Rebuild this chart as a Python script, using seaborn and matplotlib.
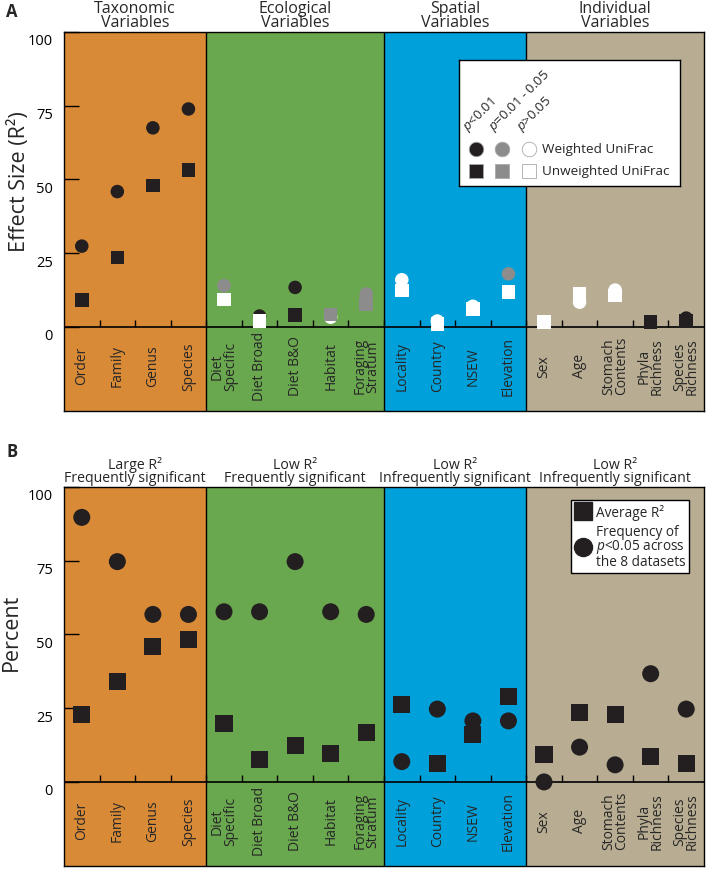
import numpy as np
import pandas as pd
import matplotlib
matplotlib.use("Agg")
import matplotlib.pyplot as plt
import matplotlib.transforms as mtransforms
from matplotlib.lines import Line2D
import seaborn as sns

sns.set_style("white")
plt.rcParams["font.family"] = ["Open Sans", "DejaVu Sans"]
plt.rcParams["mathtext.fontset"] = "custom"
plt.rcParams["mathtext.rm"] = "Open Sans"
plt.rcParams["mathtext.it"] = "Open Sans:italic"

# categories and groups
categories = ["Order", "Family", "Genus", "Species",
              "Diet Specific", "Diet Broad", "Diet B&O", "Habitat", "Foraging Stratum",
              "Locality", "Country", "NSEW", "Elevation",
              "Sex", "Age", "Stomach Contents", "Phyla Richness", "Species Richness"]
cat_labels = ["Order", "Family", "Genus", "Species",
              "Diet\nSpecific", "Diet Broad", "Diet B&O", "Habitat", "Foraging\nStratum",
              "Locality", "Country", "NSEW", "Elevation",
              "Sex", "Age", "Stomach\nContents", "Phyla\nRichness", "Species\nRichness"]
group_sizes = [4, 5, 4, 5]
group_colors = ["#d98a37", "#6aa84f", "#00a1db", "#b8ad92"]
titles_a = ["Taxonomic\nVariables", "Ecological\nVariables", "Spatial\nVariables", "Individual\nVariables"]
titles_b = ["Large R²\nFrequently significant", "Low R²\nFrequently significant",
            "Low R²\nInfrequently significant", "Low R²\nInfrequently significant"]

# panel A: effect size (R2) per variable
weighted_r2 = [27.4, 45.9, 67.5, 73.9, 14.0, 3.7, 13.4, 3.3, 11.2,
               16.0, 2.0, 7.0, 18.0, 1.6, 8.4, 12.5, 1.6, 3.0]
weighted_sig = ["p<0.01", "p<0.01", "p<0.01", "p<0.01", "0.01-0.05", "p<0.01", "p<0.01", ">0.05", "0.01-0.05",
                ">0.05", ">0.05", ">0.05", "0.01-0.05", ">0.05", ">0.05", ">0.05", "0.01-0.05", "p<0.01"]
unweighted_r2 = [9.2, 23.6, 47.9, 53.3, 9.3, 2.1, 4.1, 4.2, 7.8,
                 12.3, 1.0, 6.0, 11.8, 1.6, 11.2, 10.6, 1.6, 2.1]
unweighted_sig = ["p<0.01", "p<0.01", "p<0.01", "p<0.01", ">0.05", ">0.05", "p<0.01", "0.01-0.05", "0.01-0.05",
                  ">0.05", ">0.05", ">0.05", ">0.05", ">0.05", ">0.05", ">0.05", "p<0.01", "p<0.01"]

# panel B: average R2 and frequency of significance
avg_r2 = [22.8, 33.9, 46.0, 48.3, 19.7, 7.5, 12.3, 9.5, 16.9,
          26.2, 6.1, 16.0, 29.0, 9.2, 23.6, 22.8, 8.6, 6.1]
freq_sig = [89.7, 74.7, 56.8, 56.8, 57.7, 57.7, 74.7, 57.7, 56.8,
            6.9, 24.7, 20.7, 20.7, 0.0, 11.8, 5.8, 36.7, 24.7]

sig_colors = {"p<0.01": "#231f20", "0.01-0.05": "#8c8c8c", ">0.05": "#ffffff"}
dark = "#231f20"

df_a = pd.DataFrame({
    "variable": categories * 2,
    "r2": weighted_r2 + unweighted_r2,
    "sig": weighted_sig + unweighted_sig,
    "metric": ["Weighted UniFrac"] * 18 + ["Unweighted UniFrac"] * 18,
})
df_b = pd.DataFrame({
    "variable": categories * 2,
    "value": freq_sig + avg_r2,
    "measure": ["Frequency"] * 18 + ["Average R2"] * 18,
})

fig = plt.figure(figsize=(7.08, 8.7), dpi=100)
W, H = 708, 870
ax_a = fig.add_axes([64 / W, 1 - 412 / H, 640 / W, 379 / H])
ax_b = fig.add_axes([64 / W, 1 - 867 / H, 640 / W, 379 / H])


def draw_frame(ax, titles, title_size):
    start = -0.5
    for n, col, t in zip(group_sizes, group_colors, titles):
        ax.axvspan(start, start + n, color=col, zorder=0, lw=0)
        ax.text(start + n / 2, 100.6, t, ha="center", va="bottom",
                fontsize=title_size, linespacing=0.82)
        if start > -0.5:
            ax.axvline(start, color="k", lw=1, zorder=1)
        start += n
    ax.axhline(0, color="k", lw=1.2, zorder=1)
    ax.vlines(np.arange(0.5, len(categories) - 0.5, 1), 0, 2.5, color="k", lw=1, zorder=1)
    for i, lab in enumerate(cat_labels):
        ax.text(i, -13, lab, rotation=90, ha="center", va="center",
                fontsize=10, linespacing=0.8)
    ax.set_xlim(-0.5, len(categories) - 0.5)
    ax.set_ylim(-28.5, 100)
    ax.set_xticks([])
    ax.set_xlabel("")
    ax.set_yticks([0, 25, 50, 75, 100])
    ax.tick_params(axis="y", direction="in", length=11, width=1, left=True,
                   labelsize=10.5, pad=8, colors="k")
    off = mtransforms.ScaledTranslation(0, -5 / 72, fig.dpi_scale_trans)
    for lbl in ax.get_yticklabels():
        lbl.set_transform(lbl.get_transform() + off)
    for sp in ax.spines.values():
        sp.set_color("k")
        sp.set_linewidth(1)
        sp.set_zorder(5)


# panel A
sns.scatterplot(data=df_a, x="variable", y="r2", hue="sig", style="metric",
                palette=sig_colors,
                markers={"Weighted UniFrac": "o", "Unweighted UniFrac": "s"},
                s=95, linewidth=0, legend=False, ax=ax_a, zorder=3)
draw_frame(ax_a, titles_a, 11.5)
ax_a.set_ylabel("Effect Size (R²)", fontsize=15.5)
ax_a.yaxis.set_label_coords(-0.053, 0.607)

# panel A legend box
leg = fig.add_axes([459 / W, 1 - 187 / H, 221 / W, 126 / H])
leg.set_xlim(0, 221)
leg.set_ylim(126, 0)
leg.set_xticks([])
leg.set_yticks([])
leg.set_facecolor("white")
for sp in leg.spines.values():
    sp.set_color("k")
    sp.set_linewidth(1)
key_x = [17, 43, 70]
for kx, (name, col) in zip(key_x, sig_colors.items()):
    leg.scatter(kx, 89, marker="o", s=110, color=col, edgecolor="#aaaaaa", linewidth=0.6)
    leg.scatter(kx, 111, marker="s", s=110, color=col, edgecolor="#aaaaaa", linewidth=0.6)
leg.text(83, 89, "Weighted UniFrac", va="center", fontsize=9.7)
leg.text(83, 111, "Unweighted UniFrac", va="center", fontsize=9.7)
for hx, htxt in zip([12, 38, 66], ["$p$<0.01", "$p$=0.01 - 0.05", "$p$>0.05"]):
    leg.text(hx, 74, htxt, rotation=45, rotation_mode="anchor",
             ha="left", va="bottom", fontsize=9.5)

# panel B
sns.scatterplot(data=df_b, x="variable", y="value", style="measure",
                markers={"Frequency": "o", "Average R2": "s"},
                color=dark, s=150, linewidth=0, legend=False, ax=ax_b, zorder=3)
draw_frame(ax_b, titles_b, 10.2)
ax_b.set_ylabel("Percent", fontsize=15.5)
ax_b.yaxis.set_label_coords(-0.066, 0.618)

handles = [Line2D([], [], marker="s", color=dark, ls="none", markersize=13),
           Line2D([], [], marker="o", color=dark, ls="none", markersize=13)]
lg = ax_b.legend(handles, ["Average R²", "Frequency of\n$p$<0.05 across\nthe 8 datasets"],
                 loc="upper right", bbox_to_anchor=(0.977, 0.966), borderaxespad=0,
                 frameon=True, fancybox=False, framealpha=1, edgecolor="k",
                 fontsize=9.8, handletextpad=0.3, borderpad=0.3, labelspacing=0.3,
                 handlelength=1.2)
lg.get_frame().set_linewidth(1)
for t in lg.get_texts():
    t.set_linespacing(0.85)

fig.text(6 / W, 1 - 12 / H, "A", fontsize=12, weight="bold", va="center")
fig.text(6 / W, 1 - 452 / H, "B", fontsize=12, weight="bold", va="center")

fig.savefig("out.png", dpi=100)
